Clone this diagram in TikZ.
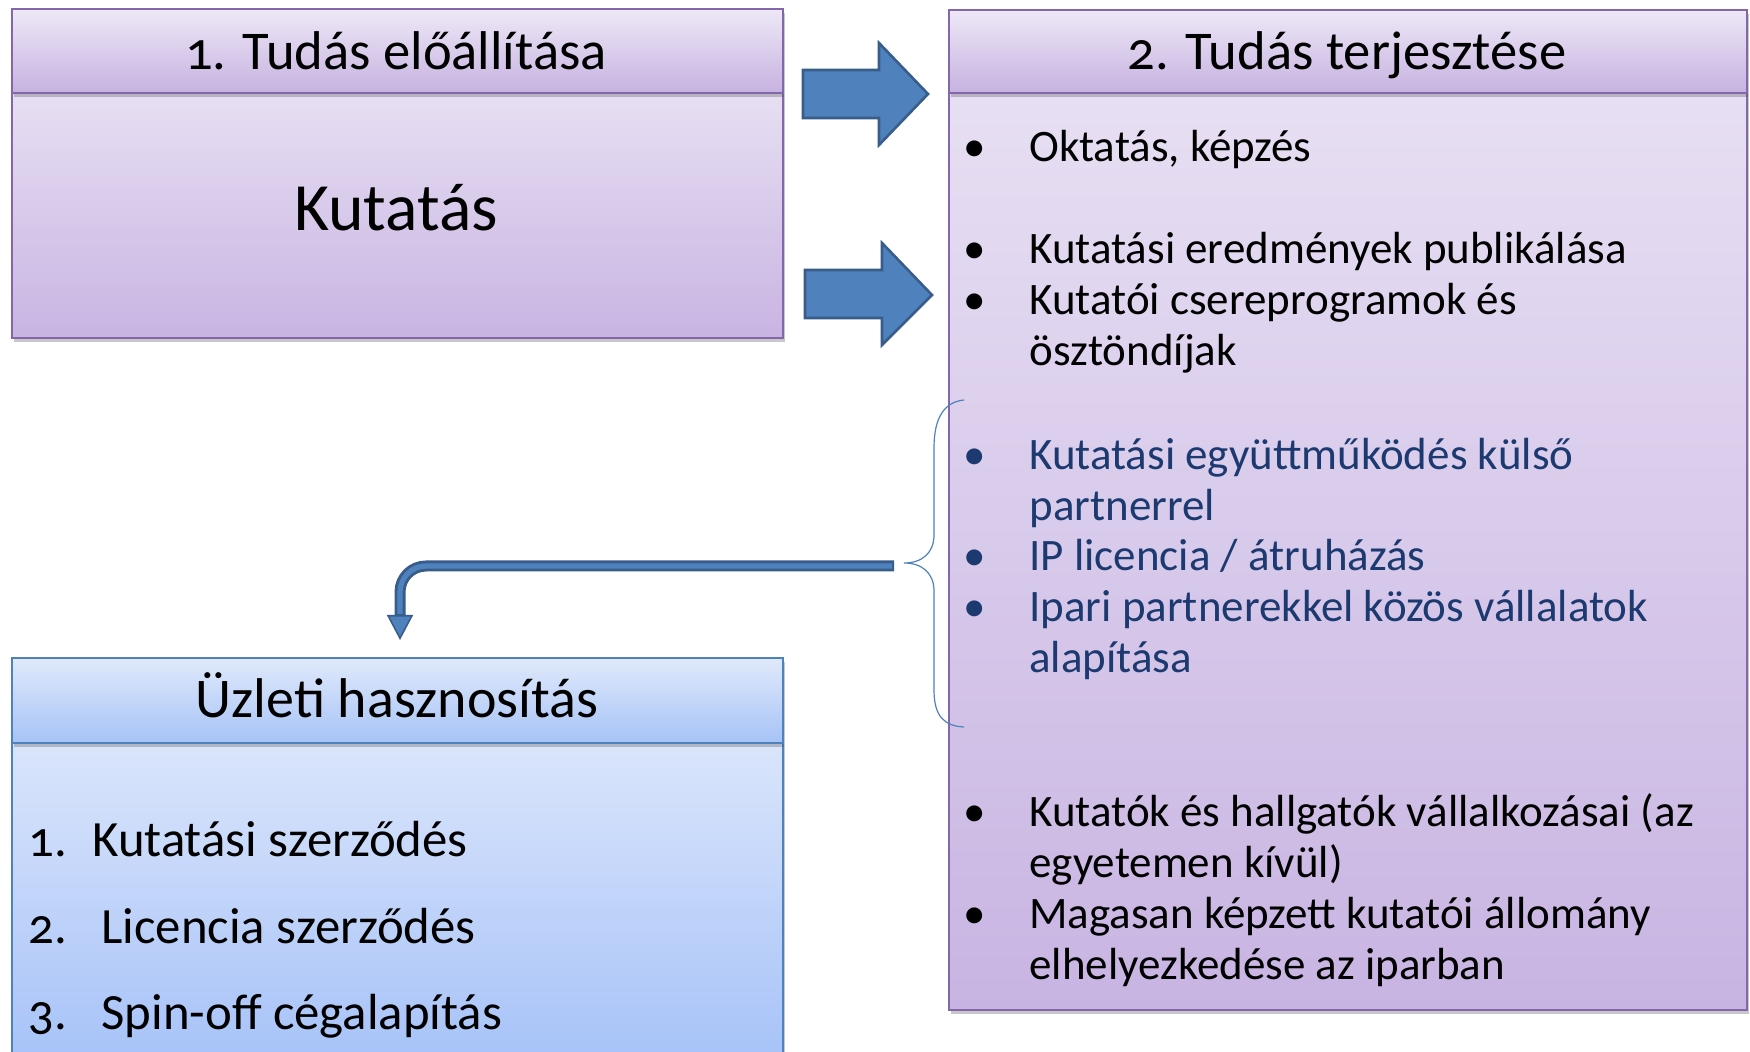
\documentclass[tikz,border=0pt]{standalone}
\usepackage{fontspec}
\setmainfont{Carlito}[Numbers=OldStyle]
\usetikzlibrary{shadows,arrows.meta}
\definecolor{purpBorder}{HTML}{8466AA}
\definecolor{pHtop}{HTML}{EEE8F7}
\definecolor{pHbot}{HTML}{C6B2E0}
\definecolor{pBtop}{HTML}{E7DFF3}
\definecolor{pBbot}{HTML}{C8B4E2}
\definecolor{bBorder}{HTML}{4F81BD}
\definecolor{bHtop}{HTML}{E0E9FB}
\definecolor{bHbot}{HTML}{A6C3F6}
\definecolor{bBtop}{HTML}{DAE5FB}
\definecolor{bBbot}{HTML}{A3C0F8}
\definecolor{arrFill}{HTML}{4F81BD}
\definecolor{arrDark}{HTML}{385D8A}
\definecolor{navyText}{HTML}{1C3A70}
\newcommand{\hdfont}{\fontsize{27.3}{32}\selectfont}
\newcommand{\bigfont}{\fontsize{33.8}{40}\selectfont}
\newcommand{\blfont}{\fontsize{22.5}{25.5}\selectfont}
\newcommand{\itfont}{\fontsize{25.4}{30}\selectfont}
\begin{document}
\begin{tikzpicture}[x=0.5pt,y=-0.5pt,
  shd/.style={drop shadow={shadow xshift=1.2pt, shadow yshift=-2pt, opacity=0.3, fill=black!70}},
  purphead/.style={shd, draw=purpBorder, line width=1pt, top color=pHtop, bottom color=pHbot, inner sep=0pt, anchor=north west},
  purpbody/.style={shd, draw=purpBorder, line width=1pt, top color=pBtop, bottom color=pBbot, inner sep=0pt, anchor=north west},
  bluehead/.style={shd, draw=bBorder, line width=1pt, top color=bHtop, bottom color=bHbot, inner sep=0pt, anchor=north west},
  bluebody/.style={shd, draw=bBorder, line width=1pt, top color=bBtop, bottom color=bBbot, inner sep=0pt, anchor=north west},
  blockarrow/.style={fill=arrFill, draw=arrDark, line width=1.3pt, line join=miter},
  hdtext/.style={font=\hdfont, anchor=base, inner sep=0pt},
  bul/.style={font=\blfont, anchor=base, inner sep=0pt},
  itm/.style={font=\blfont, anchor=base west, align=left, inner sep=0pt},
  num/.style={font=\itfont, anchor=base west, inner sep=0pt},
  bracestyle/.style={draw=bBorder, line width=0.6pt},
]
\clip (0,0) rectangle (1750,1052);
\fill[white] (0,0) rectangle (1750,1052);

% Box 1
\node[purpbody, minimum width=385.5pt, minimum height=122.5pt] (b1) at (11,92) {};
\node[purphead, minimum width=385.5pt, minimum height=42pt] (h1) at (11,8) {};
\node[hdtext] (t1) at (396,70) {1. Tudás előállítása};
\node[font=\bigfont, anchor=base, inner sep=0pt] (kut) at (396,231) {Kutatás};

% Box 2
\node[purpbody, minimum width=399pt, minimum height=458.5pt] (b2) at (948,92) {};
\node[purphead, minimum width=399pt, minimum height=41.5pt] (h2) at (948,9) {};
\node[hdtext] (t2) at (1347,70) {2. Tudás terjesztése};

% Box 3
\node[bluebody, minimum width=385.5pt, minimum height=170pt] (b3) at (11,742) {};
\node[bluehead, minimum width=385.5pt, minimum height=42.5pt] (h3) at (11,657) {};
\node[hdtext, font=\fontsize{28}{33}\selectfont] (t3) at (397,718) {Üzleti hasznosítás};

% Box 3 items
\node[num] (n1) at (28,856) {1.};
\node[num] (i1) at (92,856) {Kutatási szerződés};
\node[num] (n2) at (28,943) {2.};
\node[num] (i2) at (101,943) {Licencia szerződés};
\node[num] (n3) at (28,1029) {3.};
\node[num] (i3) at (101,1029) {Spin-off cégalapítás};

% Box 2 bullets (multi-line nodes are placed by their last baseline)
\node[bul] (p1) at (975,162) {•};
\node[itm] (l1) at (1029,162) {Oktatás, képzés};
\node[bul] (p2) at (975,264) {•};
\node[itm] (l2) at (1029,264) {Kutatási eredmények publikálása};
\node[bul] (p3) at (975,315) {•};
\node[itm] (l3) at (1029,366) {Kutatói csereprogramok és\\ösztöndíjak};
\node[bul, text=navyText] (p4) at (975,470) {•};
\node[itm, text=navyText] (l4) at (1029,521) {Kutatási együttműködés külső\\partnerrel};
\node[bul, text=navyText] (p5) at (975,571) {•};
\node[itm, text=navyText] (l5) at (1029,571) {IP licencia / átruházás};
\node[bul, text=navyText] (p6) at (975,622) {•};
\node[itm, text=navyText] (l6) at (1029,673) {Ipari partnerekkel közös vállalatok\\alapítása};
\node[bul] (p7) at (975,826) {•};
\node[itm] (l7) at (1029,877) {Kutatók és hallgatók vállalkozásai (az\\egyetemen kívül)};
\node[bul] (p8) at (975,928) {•};
\node[itm] (l8) at (1029,979) {Magasan képzett kutatói állomány\\elhelyezkedése az iparban};

% Block arrows
\draw[blockarrow] (803,70) -- (879,70) -- (879,43) -- (928,94) -- (879,145) -- (879,118) -- (803,118) -- cycle;
\draw[blockarrow] (805,270) -- (882,270) -- (882,243) -- (932,295) -- (882,345) -- (882,318) -- (805,318) -- cycle;

% Brace
\coordinate (brtip) at (904,563);
\draw[bracestyle] (964,400) .. controls (944,402) and (934,418) .. (934,448)
  -- (934,535) .. controls (934,553) and (922,563) .. (brtip)
  .. controls (922,563) and (934,573) .. (934,591)
  -- (934,690) .. controls (934,716) and (944,726) .. (964,727);

% Connector
\coordinate (cstart) at (894,566);
\coordinate (cend) at (400,640);
\draw[line width=5.5pt, color=arrDark, rounded corners=13pt,
  -{Triangle[length=12.5pt, width=13pt, line width=0.8pt, fill=arrFill]}] (cstart) -| (cend);
\draw[line width=2.6pt, color=arrFill, rounded corners=13pt, shorten >=13pt, shorten <=1pt] (cstart) -| (cend);
\end{tikzpicture}
\end{document}
